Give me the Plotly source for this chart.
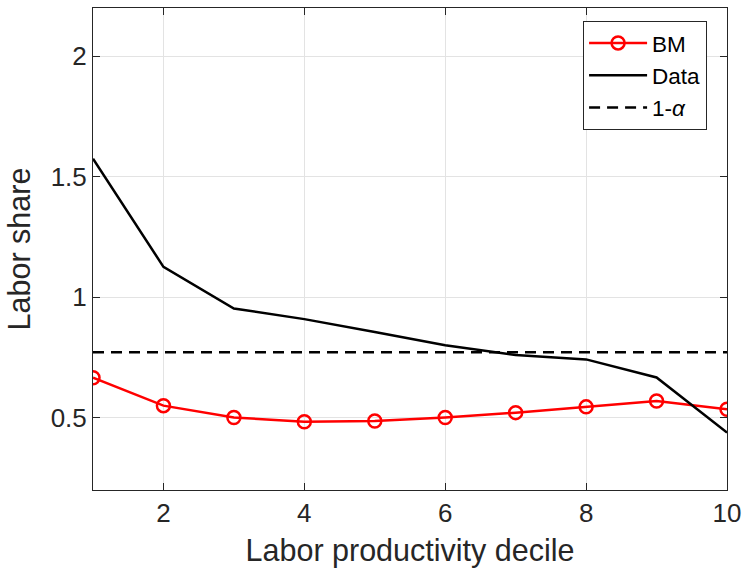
import plotly.graph_objects as go

deciles = [1, 2, 3, 4, 5, 6, 7, 8, 9, 10]
bm_share = [0.666, 0.550, 0.501, 0.483, 0.486, 0.501, 0.521, 0.545, 0.569, 0.535]
data_share = [1.575, 1.126, 0.953, 0.909, 0.856, 0.801, 0.760, 0.742, 0.667, 0.438]
one_minus_alpha = 0.772

x_ticks = [2, 4, 6, 8, 10]
y_ticks = [0.5, 1, 1.5, 2]

FONT = "Liberation Sans, Arial, Helvetica, sans-serif"
AX = "#262626"

fig = go.Figure()
fig.add_trace(go.Scatter(
    x=deciles, y=bm_share, mode="lines+markers", name="BM",
    line=dict(color="#ff0000", width=2.5),
    marker=dict(symbol="circle-open", size=13, color="#ff0000", line=dict(width=2.5, color="#ff0000")),
))
fig.add_trace(go.Scatter(
    x=deciles, y=data_share, mode="lines", name="Data",
    line=dict(color="#000000", width=2.5),
))
fig.add_trace(go.Scatter(
    x=[deciles[0], deciles[-1]], y=[one_minus_alpha, one_minus_alpha], mode="lines",
    name="1-<i>α</i>",
    line=dict(color="#000000", width=2.5, dash="11px,7px"),
))

axis_common = dict(
    showline=True, linecolor=AX, linewidth=1, mirror="ticks",
    ticks="inside", ticklen=7, tickcolor=AX, tickwidth=1,
    showgrid=True, gridcolor="#e3e3e3", gridwidth=1,
    zeroline=False, tickfont=dict(family=FONT, size=26, color=AX),
    automargin=False,
)

fig.update_xaxes(range=[1, 10], tickvals=x_ticks, ticktext=[str(v) for v in x_ticks],
                 title=dict(text="Labor productivity decile", font=dict(family=FONT, size=30.5, color=AX), standoff=12),
                 **axis_common)
fig.update_yaxes(range=[0.2, 2.2], tickvals=y_ticks, ticktext=["0.5", "1", "1.5", "2"],
                 title=dict(text="Labor share", font=dict(family=FONT, size=30.5, color=AX), standoff=10),
                 **axis_common)

fig.update_layout(
    width=743, height=578,
    margin=dict(l=93, r=16, t=8, b=88),
    paper_bgcolor="white", plot_bgcolor="white",
    font=dict(family=FONT, color=AX),
    showlegend=True,
    legend=dict(
        x=0.773, y=0.9735, xanchor="left", yanchor="top",
        bgcolor="white", bordercolor=AX, borderwidth=1,
        font=dict(family=FONT, size=22.5, color="#000000"),
        itemwidth=58, tracegroupgap=0,
    ),
)

fig.write_html("out.html")
